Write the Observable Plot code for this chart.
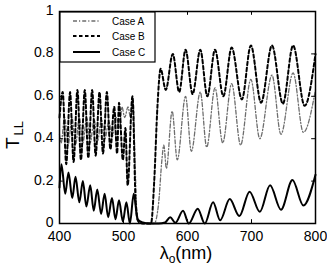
<!DOCTYPE html>
<html><head><meta charset="utf-8">
<script src="https://cdn.jsdelivr.net/npm/d3@7"></script>
<script src="https://cdn.jsdelivr.net/npm/@observablehq/plot@0.6"></script>
<style>body{margin:0;background:#fff;} #chart{width:327px;height:273px;}</style>
</head><body><div id="chart"></div>
<script>
// Case A (dash-dot)
const caseAx = [400,402.5,408,413.5,419.5,425,431,436.5,442.5,448,454,459.5,465.5,471,477,482.5,488.5,494,497.5,502,507,511,515,518,521,526,548,555,560,563,567,576,584,597,606,620,630,643,655,669,683,699,713,732,746,765,781,800];
const caseAy = [0.42,0.38,0.5,0.37,0.5,0.37,0.5,0.38,0.5,0.38,0.49,0.39,0.49,0.4,0.48,0.41,0.5,0.45,0.55,0.5,0.55,0.5,0.58,0.3,0.05,0.0,0.0,0.1,0.3,0.37,0.26,0.53,0.30,0.60,0.34,0.62,0.36,0.64,0.38,0.66,0.37,0.68,0.40,0.70,0.42,0.71,0.43,0.63];
// Case B (dashed)
const caseBx = [400,405,410.5,416.5,422,428,433.5,439.5,445,451,456.5,462.5,468,474,479.5,485.5,490,493,499,503,506.5,514,519,523,530,543,548,553,558,566,577,587,597,608,620,631,643,656,669,685,699,715,732,749,765,783,800];
const caseBy = [0.5,0.62,0.28,0.62,0.29,0.63,0.30,0.63,0.31,0.63,0.32,0.62,0.33,0.62,0.35,0.55,0.33,0.57,0.30,0.45,0.18,0.6,0.1,0.01,0.0,0.0,0.2,0.55,0.73,0.63,0.80,0.62,0.82,0.61,0.82,0.60,0.82,0.60,0.83,0.585,0.84,0.57,0.84,0.565,0.84,0.555,0.80];
// Case C (solid)
const caseCx = [400,403,409,414,420,425,431,436.5,442,448,453.5,459,465,470.5,476,482,487.5,493,499,504.5,510,516,522,530,540,555,565,573,581,593,602,616,627,640,651,666,681,697,713,729,746,764,781,800];
const caseCy = [0.17,0.28,0.14,0.24,0.12,0.22,0.10,0.20,0.08,0.18,0.06,0.16,0.045,0.14,0.03,0.12,0.02,0.11,0.01,0.10,0.0,0.14,0.02,0.005,0.0,0.0,0.005,0.03,0.003,0.06,0.0,0.07,0.0,0.10,0.015,0.115,0.035,0.15,0.055,0.18,0.065,0.205,0.085,0.23];

const seriesNames = ["Case A","Case B","Case C"];
const xTicks = [400,500,600,700,800];
const yTicks = [0,0.2,0.4,0.6,0.8,1];
const yTickLabels = ["0","0.2","0.4","0.6","0.8","1"];

const styles = [
  {stroke:"#6e6e6e", strokeWidth:1.3, strokeDasharray:"4,2,1.2,2"},
  {stroke:"black", strokeWidth:2, strokeDasharray:"3.5,2.5"},
  {stroke:"black", strokeWidth:2, strokeDasharray:null}
];
const rows = (xs, ys) => xs.map((x, i) => ({x, y: ys[i]}));
const data = [rows(caseAx, caseAy), rows(caseBx, caseBy), rows(caseCx, caseCy)];

const plot = Plot.plot({
  width: 327, height: 273,
  marginLeft: 59, marginRight: 12, marginTop: 11, marginBottom: 50,
  x: {domain: [400, 800]},
  y: {domain: [0, 1]},
  style: {fontFamily: "'Liberation Sans', Arial, sans-serif", fontSize: "14px", background: "white", color: "black"},
  marks: [
    ...data.map((d, i) => Plot.line(d, {x: "x", y: "y", curve: "monotone-x", ...styles[i]})),
    Plot.frame({stroke: "black", strokeWidth: 1.5}),
    Plot.ruleX(xTicks, {y1: 0, y2: 0.018, stroke: "black"}),
    Plot.ruleX(xTicks, {y1: 0.982, y2: 1, stroke: "black"}),
    Plot.ruleY(yTicks, {x1: 400, x2: 406, stroke: "black"}),
    Plot.ruleY(yTicks, {x1: 794, x2: 800, stroke: "black"}),
    Plot.axisX(xTicks, {tickSize: 0, tickPadding: 8, label: null, fontSize: 14}),
    Plot.axisY(yTicks, {tickSize: 0, tickPadding: 6, label: null, fontSize: 14, dy: -1, tickFormat: d => yTickLabels[yTicks.indexOf(d)]})
  ]
});

const svg = d3.select(plot);
// legend
const lg = svg.append("g");
lg.append("rect").attr("x", 60).attr("y", 12).attr("width", 95).attr("height", 50)
  .attr("fill", "white").attr("stroke", "black").attr("stroke-width", 1.2);
const ly = [21, 36, 52];
seriesNames.forEach((name, i) => {
  const s = styles[i];
  lg.append("line").attr("x1", 73).attr("x2", 100).attr("y1", ly[i]).attr("y2", ly[i])
    .attr("stroke", s.stroke).attr("stroke-width", s.strokeWidth)
    .attr("stroke-dasharray", s.strokeDasharray);
  lg.append("text").attr("x", 112).attr("y", ly[i] + 3.5).attr("font-size", 10)
    .attr("text-anchor", "start").attr("fill", "black").text(name);
});
// y title (rotated)
const yt = svg.append("text").attr("transform", "translate(19,149) rotate(-90)")
  .attr("text-anchor", "start").attr("font-size", 19).attr("fill", "black");
yt.append("tspan").text("T");
yt.append("tspan").attr("font-size", 13).attr("dy", 4).attr("dx", 2).text("LL");
// x title
const xt = svg.append("text").attr("x", 186).attr("y", 259).attr("text-anchor", "middle")
  .attr("font-size", 18).attr("fill", "black");
xt.append("tspan").text("λ");
xt.append("tspan").attr("font-size", 12).attr("dy", 4).text("o");
xt.append("tspan").attr("dy", -4).text("(nm)");

document.getElementById("chart").appendChild(plot);
</script>
</body></html>
